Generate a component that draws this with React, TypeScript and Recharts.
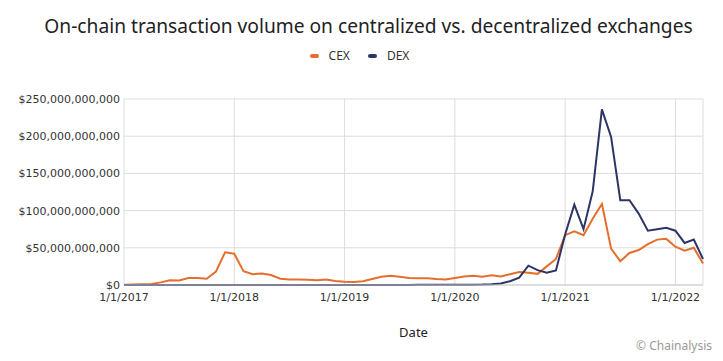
import React from "react";
import { LineChart, Line, XAxis, YAxis, CartesianGrid, Legend } from "recharts";

// monthly points, Jan 2017 .. Apr 2022 (values in billions USD)
const cex = [
  0.5, 0.8, 1.0, 1.2, 3.5, 6.5, 6, 9.5, 9.5, 8.5, 18, 44,
  42, 18.5, 14.5, 15.5, 13.5, 8.5, 7.5, 7.5, 7, 6.5, 7.5, 5.5,
  4.5, 4, 5, 8, 11, 12.5, 11, 9.5, 9, 9, 8, 7.5,
  9.5, 11.5, 12.5, 11, 13, 11.5, 14.5, 17.5, 16.5, 15, 25, 35,
  67, 72, 67, 89, 109, 49, 32, 43, 47, 55, 61, 62,
  51.5, 46, 50, 29,
];

const dex = [
  0, 0, 0, 0, 0, 0, 0, 0, 0, 0, 0, 0,
  0, 0, 0, 0, 0, 0, 0, 0, 0, 0, 0, 0,
  0, 0, 0, 0, 0.1, 0.1, 0.1, 0.1, 0.2, 0.2, 0.2, 0.3,
  0.4, 0.4, 0.5, 0.6, 1, 2, 5, 10, 26, 20, 16.5, 19.5,
  68, 108, 75, 126, 236, 199, 114, 114, 96, 73, 75, 77,
  73, 56.5, 61, 35,
];

const xTicks = [0, 12, 24, 36, 48, 60];
const xTickLabels = ["1/1/2017", "1/1/2018", "1/1/2019", "1/1/2020", "1/1/2021", "1/1/2022"];
const yTicks = [0, 50, 100, 150, 200, 250];

const CEX_COLOR = "#e46f2c";
const DEX_COLOR = "#2c3566";

const data = cex.map((v, i) => ({ m: i, CEX: v, DEX: dex[i] }));

const fmtMoney = (v: number) => "$" + (v * 1e9).toLocaleString("en-US");

function LegendContent(props: any) {
  const items = props.payload || [];
  return (
    <div style={{ display: "flex", justifyContent: "center", gap: 18, fontFamily: "'Noto Sans', sans-serif", fontSize: 12, color: "#333" }}>
      {items.map((it: any) => (
        <span key={it.value} style={{ display: "flex", alignItems: "center" }}>
          <span style={{ display: "inline-block", width: 9, height: 4, borderRadius: 2, background: it.color, marginRight: 10 }} />
          {it.value}
        </span>
      ))}
    </div>
  );
}

export default function App() {
  return (
    <div style={{ position: "relative", width: 723, height: 361, background: "#fff", margin: -8 }}>
      <div
        style={{
          position: "absolute",
          top: 12,
          left: 7,
          width: 723,
          textAlign: "center",
          fontFamily: "'Noto Sans', sans-serif",
          fontSize: 19.2,
          color: "#222",
        }}
      >
        On-chain transaction volume on centralized vs. decentralized exchanges
      </div>
      <LineChart width={723} height={361} data={data} margin={{ top: 82, right: 20, bottom: 21, left: 0 }}>
        <CartesianGrid stroke="#dddddd" />
        <Legend verticalAlign="top" wrapperStyle={{ top: 47, left: -2, width: 723 }} content={<LegendContent />} />
        <XAxis
          dataKey="m"
          type="number"
          domain={[0, 63]}
          ticks={xTicks}
          tickFormatter={(v: number) => xTickLabels[xTicks.indexOf(v)]}
          height={55}
          tickSize={0}
          tickMargin={8}
          stroke="#cccccc"
          tick={{ fill: "#333", fontSize: 11, fontFamily: "'DejaVu Sans', sans-serif" }}
          label={{ value: "Date", position: "insideBottom", offset: 3, fill: "#222", fontSize: 13, fontFamily: "'Noto Sans', sans-serif" }}
        />
        <YAxis
          domain={[0, 250]}
          ticks={yTicks}
          tickFormatter={fmtMoney}
          width={124}
          axisLine={false}
          tickSize={0}
          tickMargin={4}
          tick={{ fill: "#333", fontSize: 11, fontFamily: "'DejaVu Sans', sans-serif" }}
        />
        <Line type="linear" dataKey="CEX" stroke={CEX_COLOR} strokeWidth={2} dot={false} isAnimationActive={false} />
        <Line type="linear" dataKey="DEX" stroke={DEX_COLOR} strokeWidth={2} dot={false} isAnimationActive={false} />
      </LineChart>
      <div
        style={{
          position: "absolute",
          right: 11,
          top: 337,
          fontFamily: "'Noto Sans', sans-serif",
          fontSize: 12,
          color: "#999",
        }}
      >
        © Chainalysis
      </div>
    </div>
  );
}
